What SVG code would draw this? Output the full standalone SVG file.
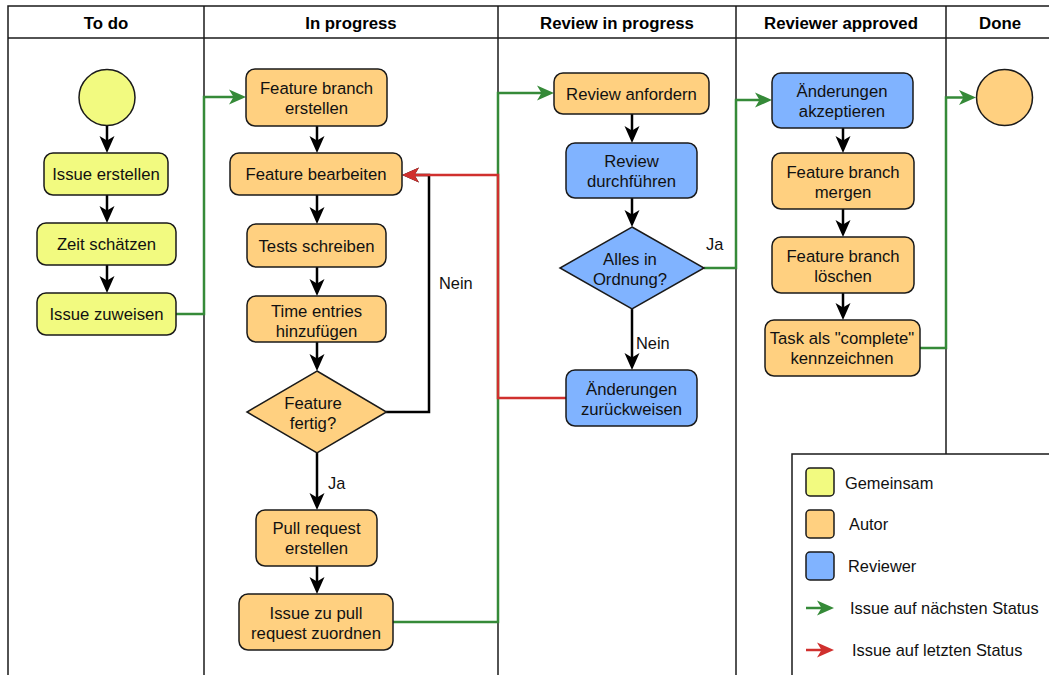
<svg xmlns="http://www.w3.org/2000/svg" width="1049" height="675" viewBox="0 0 1049 675">
<style>
.lane{fill:none;stroke:#1a1a1a;stroke-width:1.5}
.hd{font-family:"Liberation Sans",Arial,sans-serif;font-size:16.8px;font-weight:bold;fill:#000;text-anchor:middle}
.t{font-family:"Liberation Sans",Arial,sans-serif;font-size:16.7px;fill:#111;text-anchor:middle}
.lb{font-family:"Liberation Sans",Arial,sans-serif;font-size:16.4px;fill:#111}
.y{fill:#F2FA80;stroke:#1a1a1a;stroke-width:1.5}
.o{fill:#FFD080;stroke:#1a1a1a;stroke-width:1.5}
.b{fill:#80B3FF;stroke:#1a1a1a;stroke-width:1.5}
.k{fill:none;stroke:#000;stroke-width:2.5}
.g{fill:none;stroke:#358A38;stroke-width:2.5}
.r{fill:none;stroke:#D0302E;stroke-width:2.5}
</style>
<defs>
<marker id="ak" viewBox="0 0 17 16" refX="11" refY="8" markerWidth="17" markerHeight="16" markerUnits="userSpaceOnUse" orient="auto"><path d="M0,0.5 L17,8 L0,15.5 L4.5,8 z" fill="#000"/></marker>
<marker id="ag" viewBox="0 0 17 16" refX="11" refY="8" markerWidth="17" markerHeight="16" markerUnits="userSpaceOnUse" orient="auto"><path d="M0,0.5 L17,8 L0,15.5 L4.5,8 z" fill="#358A38"/></marker>
<marker id="ar" viewBox="0 0 17 16" refX="11" refY="8" markerWidth="17" markerHeight="16" markerUnits="userSpaceOnUse" orient="auto"><path d="M0,0.5 L17,8 L0,15.5 L4.5,8 z" fill="#D0302E"/></marker>
</defs>
<rect width="1049" height="675" fill="#fff"/>
<g id="lanes">
<rect class="lane" x="8" y="6" width="1060" height="700"/>
<line class="lane" x1="8" y1="38" x2="1060" y2="38"/>
<line class="lane" x1="204" y1="6" x2="204" y2="680"/>
<line class="lane" x1="498" y1="6" x2="498" y2="680"/>
<line class="lane" x1="736" y1="6" x2="736" y2="680"/>
<line class="lane" x1="946" y1="6" x2="946" y2="454"/>
<text class="hd" x="106" y="29">To do</text>
<text class="hd" x="351" y="29">In progress</text>
<text class="hd" x="617" y="29">Review in progress</text>
<text class="hd" x="841" y="29">Reviewer approved</text>
<text class="hd" x="1000" y="29">Done</text>
</g>
<g id="connectors">
<path class="k" d="M107,126 V147" marker-end="url(#ak)"/>
<path class="k" d="M107,195 V217" marker-end="url(#ak)"/>
<path class="k" d="M107,265 V287" marker-end="url(#ak)"/>
<path class="k" d="M317,126 V147" marker-end="url(#ak)"/>
<path class="k" d="M317,195 V218" marker-end="url(#ak)"/>
<path class="k" d="M317,267 V290" marker-end="url(#ak)"/>
<path class="k" d="M317,342 V365" marker-end="url(#ak)"/>
<path class="k" d="M317,453 V504" marker-end="url(#ak)"/>
<path class="k" d="M317,566 V588" marker-end="url(#ak)"/>
<path class="k" d="M386,412 H429 V175 H408" marker-end="url(#ak)"/>
<path class="k" d="M632,114 V137" marker-end="url(#ak)"/>
<path class="k" d="M632,198 V221" marker-end="url(#ak)"/>
<path class="k" d="M632,309 V364" marker-end="url(#ak)"/>
<path class="k" d="M843,128 V147" marker-end="url(#ak)"/>
<path class="k" d="M843,209 V231" marker-end="url(#ak)"/>
<path class="k" d="M843,293 V314" marker-end="url(#ak)"/>
<path class="g" d="M176,314 H204 V97 H240" marker-end="url(#ag)"/>
<path class="g" d="M393,622 H498 V93 H548" marker-end="url(#ag)"/>
<path class="g" d="M704,268 H736 V100 H766" marker-end="url(#ag)"/>
<path class="g" d="M920,348 H946 V97.5 H970" marker-end="url(#ag)"/>
<path class="r" d="M566,398 H498 V175 H408" marker-end="url(#ar)"/>
<text class="lb" x="439" y="289">Nein</text>
<text class="lb" x="328" y="489">Ja</text>
<text class="lb" x="706" y="250">Ja</text>
<text class="lb" x="636" y="349">Nein</text>
</g>
<g id="start"><circle cx="107" cy="97.5" r="28" class="y"/></g>
<g id="issue-erstellen"><rect class="y" x="44" y="153" width="124" height="42" rx="9"/><text class="t" x="106" y="180">Issue erstellen</text></g>
<g id="zeit-schaetzen"><rect class="y" x="37" y="223" width="139" height="42" rx="9"/><text class="t" x="106.5" y="250">Zeit schätzen</text></g>
<g id="issue-zuweisen"><rect class="y" x="37" y="293" width="139" height="42" rx="9"/><text class="t" x="106.5" y="320">Issue zuweisen</text></g>
<g id="feature-branch-erstellen"><rect class="o" x="246" y="69" width="141" height="57" rx="9"/><text class="t" x="316.5" y="94">Feature branch</text><text class="t" x="316.5" y="114">erstellen</text></g>
<g id="feature-bearbeiten"><rect class="o" x="230" y="153" width="172" height="42" rx="9"/><text class="t" x="316" y="180">Feature bearbeiten</text></g>
<g id="tests-schreiben"><rect class="o" x="247" y="224" width="139" height="43" rx="9"/><text class="t" x="316.5" y="252">Tests schreiben</text></g>
<g id="time-entries"><rect class="o" x="247" y="296" width="139" height="46" rx="9"/><text class="t" x="316.5" y="317">Time entries</text><text class="t" x="316.5" y="337">hinzufügen</text></g>
<g id="feature-fertig"><path class="o" d="M317,371 L386.5,412 L317,453 L247,412 Z"/><text class="t" x="313" y="409">Feature</text><text class="t" x="313" y="429">fertig?</text></g>
<g id="pull-request-erstellen"><rect class="o" x="256" y="510" width="121" height="56" rx="9"/><text class="t" x="316.5" y="534">Pull request</text><text class="t" x="316.5" y="554">erstellen</text></g>
<g id="issue-zu-pull-request"><rect class="o" x="239" y="594" width="154" height="56" rx="9"/><text class="t" x="316" y="619">Issue zu pull</text><text class="t" x="316" y="639">request zuordnen</text></g>
<g id="review-anfordern"><rect class="o" x="554" y="73" width="155" height="41" rx="9"/><text class="t" x="631.5" y="100">Review anfordern</text></g>
<g id="review-durchfuehren"><rect class="b" x="566" y="143" width="131" height="55" rx="9"/><text class="t" x="631.5" y="167">Review</text><text class="t" x="631.5" y="187">durchführen</text></g>
<g id="alles-in-ordnung"><path class="b" d="M632,227 L704,268 L632,309 L560,268 Z"/><text class="t" x="630" y="265">Alles in</text><text class="t" x="630" y="285">Ordnung?</text></g>
<g id="aenderungen-zurueckweisen"><rect class="b" x="566" y="370" width="131" height="56" rx="9"/><text class="t" x="631.5" y="395">Änderungen</text><text class="t" x="631.5" y="415">zurückweisen</text></g>
<g id="aenderungen-akzeptieren"><rect class="b" x="772" y="73" width="141" height="55" rx="9"/><text class="t" x="842" y="97">Änderungen</text><text class="t" x="842" y="117">akzeptieren</text></g>
<g id="feature-branch-mergen"><rect class="o" x="772" y="153" width="142" height="56" rx="9"/><text class="t" x="843" y="178">Feature branch</text><text class="t" x="843" y="198">mergen</text></g>
<g id="feature-branch-loeschen"><rect class="o" x="772" y="237" width="142" height="56" rx="9"/><text class="t" x="843" y="262">Feature branch</text><text class="t" x="843" y="282">löschen</text></g>
<g id="task-complete"><rect class="o" x="765" y="320" width="155" height="56" rx="9"/><text class="t" x="842" y="344">Task als "complete"</text><text class="t" x="842" y="364">kennzeichnen</text></g>
<g id="end"><circle cx="1004.5" cy="97.5" r="28" class="o"/></g>
<g id="legend">
<rect x="792" y="454" width="280" height="240" fill="#fff" stroke="#1a1a1a" stroke-width="1.5"/>
<rect class="y" x="806" y="468" width="28" height="28" rx="4"/><text class="lb" x="845" y="489">Gemeinsam</text>
<rect class="o" x="806" y="510" width="28" height="28" rx="4"/><text class="lb" x="849" y="530">Autor</text>
<rect class="b" x="806" y="552" width="28" height="28" rx="4"/><text class="lb" x="848" y="572">Reviewer</text>
<path class="g" d="M806,608 H828" marker-end="url(#ag)"/><text class="lb" x="850" y="614">Issue auf nächsten Status</text>
<path class="r" d="M806,650 H828" marker-end="url(#ar)"/><text class="lb" x="852" y="656">Issue auf letzten Status</text>
</g>
</svg>
